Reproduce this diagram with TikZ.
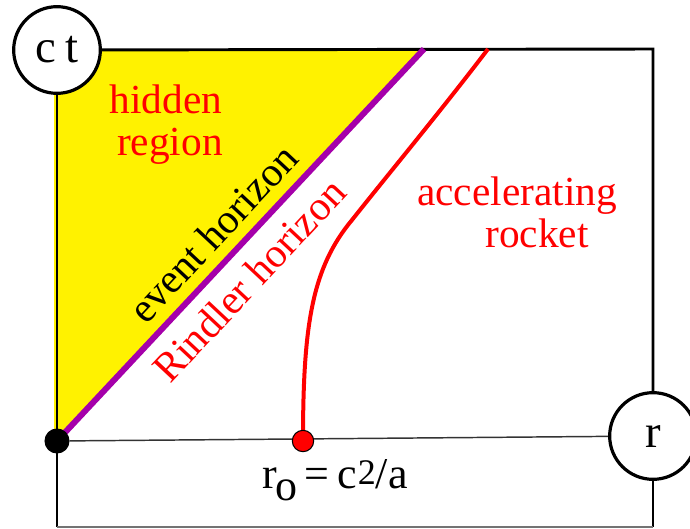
\documentclass[tikz,border=0pt]{standalone}
\usepackage{fontspec}
\setmainfont{Liberation Serif}
\usetikzlibrary{backgrounds}
\definecolor{hpurple}{RGB}{165,0,170}
\begin{document}
\begin{tikzpicture}[x=0.75pt,y=-0.75pt,
  frameline/.style={line width=2.2pt,black},
  axisline/.style={line width=1.1pt,black!80},
  lbl/.style={font=\fontsize{31}{36}\selectfont,text=red,inner sep=0pt},
  axcircle/.style={circle,draw,line width=2.4pt,fill=white,minimum size=65pt,inner sep=0pt,font=\fontsize{35}{35}\selectfont},
  dotnode/.style={circle,inner sep=0pt,draw=black,line width=0.8pt}]
\useasboundingbox (0,0) rectangle (690,529);
% named points
\coordinate (TR) at (653,49);
\coordinate (BL) at (57,527);
\coordinate (BR) at (653,527);
\coordinate (H) at (424,49);
\coordinate (R) at (488,49);
\coordinate (Rb) at (352,220);
% nodes
\node[dotnode,fill=black,minimum size=18pt] (origin) at (57,441) {};
\node[dotnode,fill=red,minimum size=16pt] (rdot) at (303,441) {};
\node[axcircle] (ct) at (57,50) {c\hspace{7pt}t};
\node[axcircle] (r) at (653,436) {r};
% labels
\node[lbl,anchor=base] (hidden) at (166,113) {hidden};
\node[lbl,anchor=base] (region) at (170,155) {region};
\node[lbl,text=black,rotate=46.9] (event) at (213,233) {event horizon};
\node[lbl,rotate=46.9] (rindler) at (249,280) {Rindler horizon};
\node[lbl,anchor=base] (accel) at (517,205) {accelerating};
\node[lbl,anchor=base] (rocket) at (537,247) {rocket};
\node[inner sep=0pt,anchor=base,font=\fontsize{33}{33}\selectfont] (r0) at (335,488)
  {r\kern-1pt\raisebox{-9pt}{o}\,=\,c\kern1pt\raisebox{3pt}{\fontsize{27}{27}\selectfont 2}/a};
\begin{scope}[on background layer]
  \fill[yellow] (54,441) -- (54,49) -- (H) -- cycle;
  \draw[frameline] (BL) -- (ct) ;
  \draw[frameline] (ct) -- (TR) -- (r);
  \draw[frameline] (r) -- (BR);
  \draw[line width=1pt,black!55] (BL) -- (BR);
  \draw[axisline] (origin) -- (r);
  \draw[hpurple,line width=4.5pt] (origin.center) -- (H);
  \draw[red,line width=3pt] (rdot.center) .. controls (303,325) and (312,268) .. (Rb) .. controls (390,172) and (440,112) .. (R);
\end{scope}
\end{tikzpicture}
\end{document}
